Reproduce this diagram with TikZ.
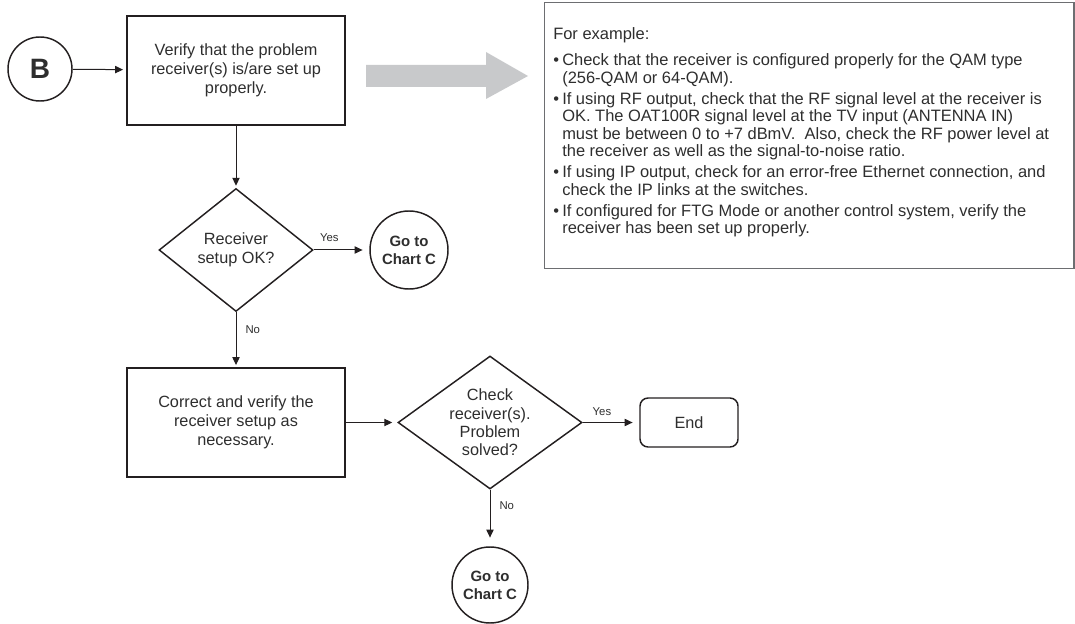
\documentclass[tikz,border=0pt]{standalone}
\usepackage{fontspec}
\setmainfont{Liberation Sans}
\usetikzlibrary{arrows.meta,shapes.geometric}
\definecolor{ink}{HTML}{231F20}
\definecolor{txt}{HTML}{2E2E2E}
\definecolor{arrowgray}{HTML}{C8C9CB}
\definecolor{boxgray}{HTML}{6D6E71}
\newcommand{\exbul}{\makebox[6.75pt][l]{\textbullet}}
\newcommand{\exind}{\hspace*{6.75pt}}
\begin{document}
\begin{tikzpicture}[x=0.75pt,y=-0.75pt,
  every node/.style={text=txt, font=\fontsize{12.2}{14.3}\selectfont},
  procbox/.style={draw=ink, line width=1.4pt, minimum width=163.5pt, minimum height=81.75pt, align=center, inner sep=0pt},
  decision/.style={diamond, draw=ink, line width=1.1pt, inner sep=0pt},
  dtext/.style={align=center, inner sep=0pt},
  conn/.style={circle, draw=ink, line width=1.1pt, inner sep=0pt, align=center, font=\fontsize{11.2}{13.5}\selectfont\bfseries},
  endbox/.style={draw=ink, line width=1.1pt, rounded corners=6pt, minimum width=73.5pt, minimum height=36.75pt, inner sep=0pt},
  flow/.style={draw=ink, line width=0.75pt, -{Triangle[length=6pt,width=5.5pt]}},
  lbl/.style={font=\fontsize{8.5}{10}\selectfont, inner sep=0pt},
]
\useasboundingbox (0,0) rectangle (1075,624);

% nodes
\node[conn, minimum size=48pt, font=\fontsize{21}{21}\selectfont\bfseries] (B) at (40,69) {B};
\node[procbox] (verify) at (236,70.5) {Verify that the problem\\receiver(s) is/are set up\\properly.};
\node[decision, minimum width=115.5pt, minimum height=92.25pt] (ok) at (236,250) {};
\node[dtext] (oktext) at (ok.center) {Receiver\\setup OK?};
\node[conn, minimum size=58.5pt] (c1) at (409,250) {Go to\\Chart C};
\node[procbox] (correct) at (236,422.5) {Correct and verify the\\receiver setup as\\necessary.};
\node[decision, minimum width=138pt, minimum height=99.75pt] (solved) at (490,422.5) {};
\node[dtext, font=\fontsize{12.2}{13.7}\selectfont] (solvedtext) at (solved.center) {Check\\receiver(s).\\Problem\\solved?};
\node[endbox] (end) at (689,422.5) {End};
\node[conn, minimum size=57pt] (c2) at (490,585) {Go to\\Chart C};

% gray arrow
\fill[arrowgray] (366,65) -- (486,65) -- (486,52) -- (528,76) -- (486,99) -- (486,87) -- (366,87) -- cycle;

% example box
\node[draw=boxgray, line width=1.1pt, minimum width=397pt, minimum height=199.5pt, anchor=north west, inner sep=0pt] (ex) at (544,2) {};
\node[anchor=north west, align=left, inner sep=0pt, font=\fontsize{12.35}{13}\selectfont] (extext) at (553,27) {For example:\\[7pt]
\exbul Check that the receiver is configured properly for the QAM type\\
\exind (256-QAM or 64-QAM).\\[3pt]
\exbul If using RF output, check that the RF signal level at the receiver is\\
\exind OK. The OAT100R signal level at the TV input (ANTENNA IN)\\
\exind must be between 0 to +7 dBmV.\ \ Also, check the RF power level at\\
\exind the receiver as well as the signal-to-noise ratio.\\[3pt]
\exbul If using IP output, check for an error-free Ethernet connection, and\\
\exind check the IP links at the switches.\\[3pt]
\exbul If configured for FTG Mode or another control system, verify the\\
\exind receiver has been set up properly.};

% connectors
\draw[flow, shorten >=2.25pt] (B) -- (verify);
\draw[flow, shorten >=1.5pt] (verify) -- (ok);
\draw[flow, shorten >=5pt] (ok) -- node[lbl, pos=0.28, above=6pt] {Yes} (c1);
\draw[flow, shorten >=1.5pt] (ok) -- node[lbl, pos=0.31, right=6.75pt] {No} (correct);
\draw[flow, shorten >=3.75pt] (correct) -- (solved);
\draw[flow, shorten >=5pt] (solved) -- node[lbl, pos=0.34, above=4.5pt] {Yes} (end);
\draw[flow, shorten >=6.5pt] (solved) -- node[lbl, pos=0.28, right=6.75pt] {No} (c2);
\end{tikzpicture}
\end{document}
